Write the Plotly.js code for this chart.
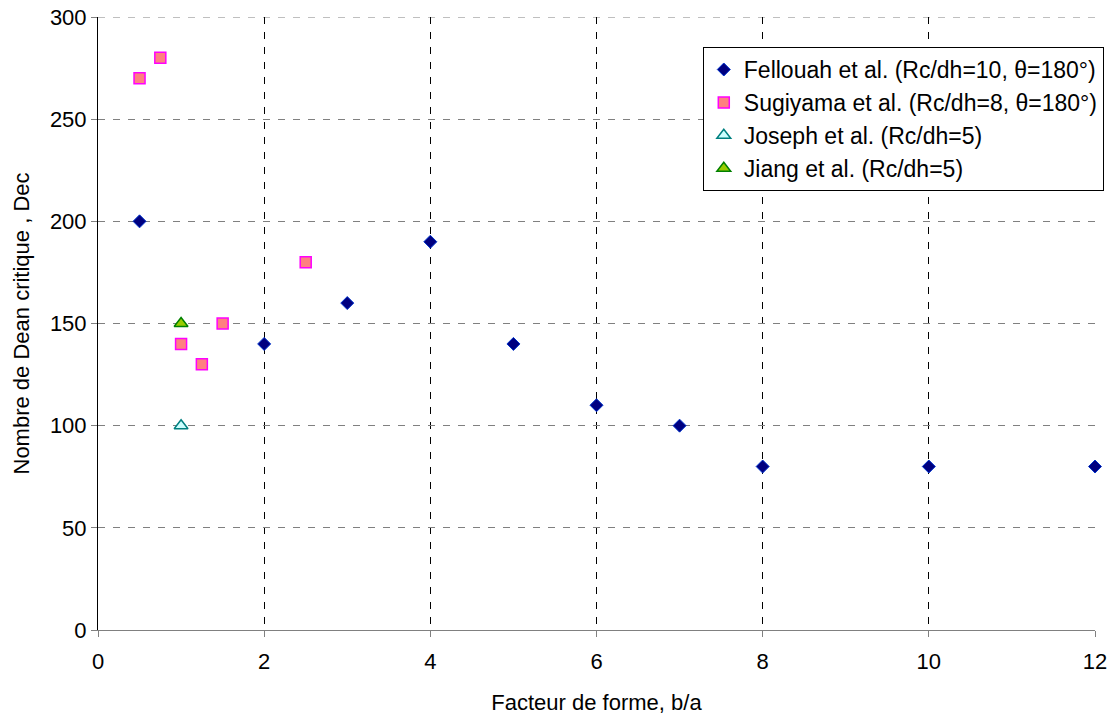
<!DOCTYPE html>
<html>
<head>
<meta charset="utf-8">
<script src="https://cdn.plot.ly/plotly-3.0.1.min.js"></script>
<style>html,body{margin:0;padding:0;background:#fff;}#chart{width:1115px;height:718px;}</style>
</head>
<body>
<div id="chart"></div>
<script>
const fellouahX = [0.5, 2, 3, 4, 5, 6, 7, 8, 10, 12];
const fellouahY = [200, 140, 160, 190, 140, 110, 100, 80, 80, 80];
const sugiyamaX = [0.5, 0.75, 1, 1.25, 1.5, 2.5];
const sugiyamaY = [270, 280, 140, 130, 150, 180];
const josephX = [1];
const josephY = [100];
const jiangX = [1];
const jiangY = [150];
const seriesNames = [
  "Fellouah et al. (Rc/dh=10, θ=180°)",
  "Sugiyama et al. (Rc/dh=8, θ=180°)",
  "Joseph et al. (Rc/dh=5)",
  "Jiang et al. (Rc/dh=5)"
];
const xTicks = [0, 2, 4, 6, 8, 10, 12];
const yTicks = [0, 50, 100, 150, 200, 250, 300];
const yMax = 300;

const font = {family: "Liberation Sans, Arial, sans-serif", size: 22, color: "#000"};
const legendFont = {family: "Liberation Sans, Arial, sans-serif", size: 23, color: "#000"};

const traces = [
  {x: fellouahX, y: fellouahY, name: seriesNames[0], type: "scatter", mode: "markers", cliponaxis: false,
   marker: {symbol: "diamond", size: 10, color: "#000080", line: {color: "#0033cc", width: 1}}},
  {x: sugiyamaX, y: sugiyamaY, name: seriesNames[1], type: "scatter", mode: "markers", cliponaxis: false,
   marker: {symbol: "square", size: 11, color: "#FF8080", line: {color: "#FF00FF", width: 1.5}}},
  {x: josephX, y: josephY, name: seriesNames[2], type: "scatter", mode: "markers", cliponaxis: false,
   marker: {symbol: "triangle-up", size: 12, color: "#CCFFFF", line: {color: "#008080", width: 1.5}}},
  {x: jiangX, y: jiangY, name: seriesNames[3], type: "scatter", mode: "markers", cliponaxis: false,
   marker: {symbol: "triangle-up", size: 12, color: "#99CC00", line: {color: "#008000", width: 1.5}}}
];

const layout = {
  width: 1115, height: 718,
  margin: {l: 98, r: 19, t: 17, b: 88},
  paper_bgcolor: "#fff", plot_bgcolor: "#fff",
  font: font,
  showlegend: true,
  legend: {x: 0.606, y: 0.951, xanchor: "left", yanchor: "top", bgcolor: "#fff",
           bordercolor: "#000", borderwidth: 1, font: legendFont},
  xaxis: {
    range: [0, 12], tickvals: xTicks, ticktext: xTicks.map(String),
    showline: true, linecolor: "#808080", linewidth: 1,
    ticks: "outside", ticklen: 6, tickcolor: "#808080", ticklabelstandoff: 6,
    showgrid: true, gridcolor: "#000", gridwidth: 1, griddash: "7px,8px",
    zeroline: false, tickfont: font,
    title: {text: "Facteur de forme, b/a", font: font, standoff: 21}
  },
  yaxis: {
    range: [0, yMax], tickvals: yTicks, ticktext: yTicks.map(String),
    showline: true, linecolor: "#000", linewidth: 1,
    ticks: "outside", ticklen: 6, tickcolor: "#808080",
    showgrid: true, gridcolor: "#808080", gridwidth: 1, griddash: "7px,8px",
    zeroline: false, tickfont: font,
    title: {text: "Nombre de Dean critique , Dec", font: font, standoff: 14}
  },
  shapes: [
    {type: "line", xref: "paper", x0: 0, x1: 1, yref: "y", y0: yMax, y1: yMax,
     line: {color: "#808080", width: 1, dash: "7px,8px"}, layer: "below"}
  ]
};

Plotly.newPlot("chart", traces, layout, {displayModeBar: false, staticPlot: true});
</script>
</body>
</html>
